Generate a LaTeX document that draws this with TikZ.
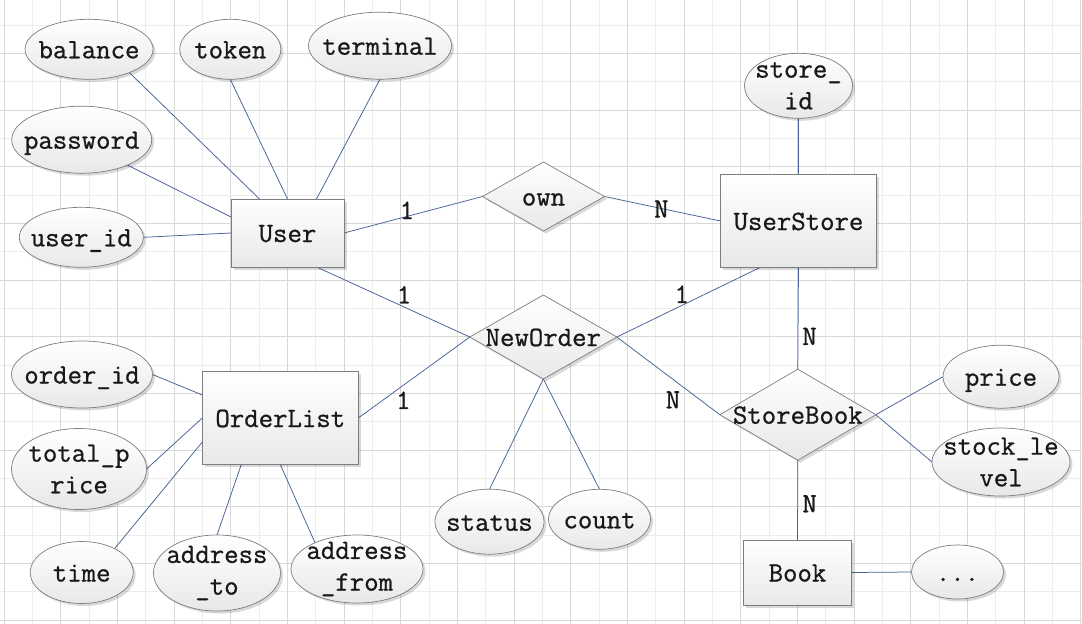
\documentclass[tikz,border=0pt]{standalone}
\usepackage{fontspec}
\setmonofont{Latin Modern Mono}[FakeBold=0.8]
\usetikzlibrary{shapes.geometric,shadows}
\definecolor{gridL}{RGB}{237,237,237}
\definecolor{gridD}{RGB}{216,216,216}
\definecolor{link}{RGB}{68,98,148}
\definecolor{edge}{RGB}{125,125,125}
\definecolor{ink}{RGB}{25,25,25}
\newcommand\erfont{\fontsize{28}{31.7}\selectfont\ttfamily}
\pgfdeclarelayer{bg}
\pgfdeclarelayer{lines}
\pgfsetlayers{bg,lines,main}
\begin{document}
\begin{tikzpicture}[x=1pt,y=-1pt,
  base/.style={draw=edge, line width=0.7pt, top color=white, bottom color=black!9,
    inner sep=0pt, outer sep=0pt,
    drop shadow={shadow xshift=2.5pt, shadow yshift=-2.5pt, opacity=0.15, fill=black}},
  ent/.style 2 args={base, rectangle, minimum width=#1pt, minimum height=#2pt},
  rel/.style 2 args={base, diamond, minimum width=#1pt, minimum height=#2pt},
  att/.style 2 args={base, ellipse, minimum width=#1pt, minimum height=#2pt},
  every label/.style={font=\erfont, text=ink, inner sep=0pt, text height=20pt, text depth=2pt},
  multi/.style={align=center, text height=, text depth=},
  card/.style={font=\erfont, text=ink, inner sep=0pt, text height=20pt, text depth=2pt},
  conn/.style={draw=link, line width=0.75pt},
  gl/.style={draw=gridL, line width=0.7pt},
  gd/.style={draw=gridD, line width=0.7pt}
]
\useasboundingbox (0,0) rectangle (1082,624);

% entities, relations, attributes
\node[att={128}{60}, label=center:balance] (balance) at (89,49.3) {};
\node[att={101}{60}, label=center:token] (token) at (230.3,49.3) {};
\node[att={143}{67}, label=center:terminal] (terminal) at (380,45.7) {};
\node[att={140}{67}, label=center:password] (password) at (81.7,139.7) {};
\node[att={124}{60}, label=center:user\_id] (userid) at (81.3,237.3) {};
\node[ent={113}{68}, label=center:User] (user) at (287.5,233) {};
\node[rel={122}{69}, label=center:own] (own) at (543.5,196.5) {};
\node[ent={156}{93}, label=center:UserStore] (ustore) at (798.5,221) {};
\node[att={108}{65}, label={[multi]center:{store\_\\id}}] (storeid) at (798.5,85.8) {};
\node[rel={147}{84}, label=center:NewOrder] (neworder) at (543.3,337) {};
\node[ent={156}{93}, label=center:OrderList] (olist) at (280.3,418) {};
\node[att={141}{67}, label=center:order\_id] (orderid) at (82,374.5) {};
\node[att={135}{81}, label={[multi]center:{total\_p\\rice}}] (tprice) at (79,469) {};
\node[att={103}{62}, label=center:time] (time) at (81.7,572.5) {};
\node[att={127}{76}, label={[multi]center:{address\\\_to}}] (addrto) at (217,573) {};
\node[att={132}{68}, label={[multi]center:{address\\\_from}}] (addrfrom) at (357,569) {};
\node[att={109}{65}, label=center:status] (status) at (489.5,521.7) {};
\node[att={102}{60}, label=center:count] (count) at (599.5,519.3) {};
\node[rel={156}{91}, label=center:StoreBook] (storebook) at (797.8,414.7) {};
\node[att={116}{63}, label=center:price] (price) at (1001,376.7) {};
\node[att={138}{68}, label={[multi]center:{stock\_le\\vel}}] (stock) at (1001,462) {};
\node[ent={108}{65}, label=center:Book] (book) at (797.5,572.5) {};
\node[att={92}{54}, label=center:...] (more) at (957.5,572) {};

\begin{pgfonlayer}{bg}
  \fill[white] (0,0) rectangle (1082,624);
  \foreach \j in {0,...,18} \draw[gl] (32.33+56.667*\j,0) -- (32.33+56.667*\j,624);
  \foreach \j in {0,...,10} \draw[gl] (0,25+56.667*\j) -- (1082,25+56.667*\j);
  \foreach \j in {0,...,19} \draw[gd] (4+56.667*\j,0) -- (4+56.667*\j,624);
  \foreach \j in {0,...,10} \draw[gd] (0,53.33+56.667*\j) -- (1082,53.33+56.667*\j);
\end{pgfonlayer}

\begin{pgfonlayer}{lines}
  % User attributes
  \draw[conn] (balance.-30) -- ([xshift=-28pt]user.north);
  \draw[conn] (token.south) -- (user.north);
  \draw[conn] (terminal.south) -- ([xshift=29pt]user.north);
  \draw[conn] (password.-29) -- ([yshift=16pt]user.west);
  \draw[conn] (userid.east) -- (user.west);
  % relations
  \draw[conn] (user.east) -- node[card, pos=0.454, yshift=6.4pt] (c1) {1} (own.west);
  \draw[conn] (own.east) -- node[card, pos=0.49] (c2) {N} (ustore.west);
  \draw[conn] ([xshift=29pt]user.south) -- node[card, pos=0.571, yshift=12.5pt] (c3) {1} (neworder.west);
  \draw[conn] ([xshift=-38.5pt]ustore.south) -- node[card, pos=0.546, yshift=11.5pt] (c4) {1} (neworder.east);
  \draw[conn] (olist.east) -- node[card, pos=0.404, yshift=-14.7pt] (c5) {1} (neworder.west);
  \draw[conn] (neworder.east) -- node[card, pos=0.545, yshift=-20pt] (c6) {N} (storebook.west);
  \draw[conn] (ustore.south) -- node[card, pos=0.673, xshift=11.5pt] (c7) {N} (storebook.north);
  \draw[conn] (storebook.south) -- node[card, pos=0.54, xshift=12pt] (c8) {N} (book.north);
  % other attributes
  \draw[conn] (storeid.south) -- (ustore.north);
  \draw[conn] (neworder.south) -- (status.north);
  \draw[conn] (neworder.south) -- (count.north);
  \draw[conn] (storebook.east) -- (price.west);
  \draw[conn] (storebook.east) -- (stock.west);
  \draw[conn] (book.east) -- (more.west);
  \draw[conn] (orderid.east) -- ([yshift=23pt]olist.west);
  \draw[conn] (tprice.east) -- (olist.west);
  \draw[conn] (time.36) -- ([yshift=-24pt]olist.west);
  \draw[conn] (addrto.north) -- ([xshift=-39pt]olist.south);
  \draw[conn] (addrfrom.148) -- (olist.south);
\end{pgfonlayer}
\end{tikzpicture}
\end{document}
